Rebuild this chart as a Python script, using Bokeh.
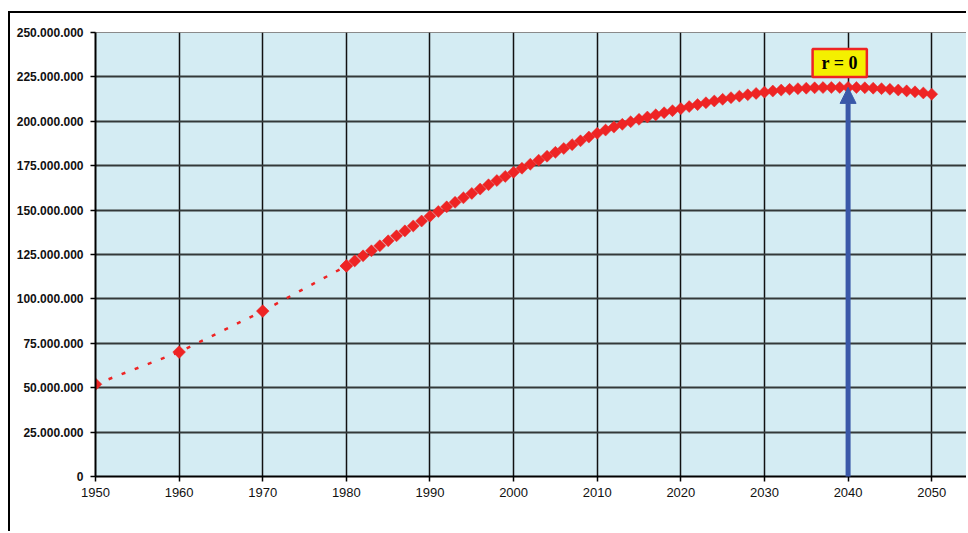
import math
from bokeh.plotting import figure
from bokeh.models import Range1d, FixedTicker, Arrow, NormalHead, Label
from bokeh.embed import file_html
from bokeh.resources import INLINE

# ---- data (population, millions) ----
census_years = [1950, 1960, 1970, 1980]
census_pop = [51.94, 70.07, 93.14, 118.56]

proj_years = list(range(1980, 2051))
proj_pop = [
    118.56, 121.41, 124.25, 127.08, 129.90, 132.71, 135.51, 138.30, 141.08, 143.85,
    146.59, 149.23, 151.83, 154.39, 156.91, 159.39, 161.84, 164.26, 166.64, 168.98,
    171.28, 173.58, 175.85, 178.10, 180.32, 182.52, 184.70, 186.86, 189.00, 191.13,
    193.25, 195.05, 196.73, 198.29, 199.74, 201.10, 202.39, 203.62, 204.81, 205.98,
    207.14, 208.29, 209.39, 210.44, 211.44, 212.39, 213.29, 214.14, 214.94, 215.69,
    216.41, 217.04, 217.57, 218.01, 218.37, 218.65, 218.85, 218.98, 219.05, 219.08,
    219.08, 219.01, 218.87, 218.66, 218.38, 218.03, 217.61, 217.13, 216.58, 215.97,
    215.29,
]

y_ticks = [0, 25, 50, 75, 100, 125, 150, 175, 200, 225, 250]
y_tick_labels = ["0", "25.000.000", "50.000.000", "75.000.000", "100.000.000",
                 "125.000.000", "150.000.000", "175.000.000", "200.000.000",
                 "225.000.000", "250.000.000"]
x_ticks = [1950, 1960, 1970, 1980, 1990, 2000, 2010, 2020, 2030, 2040, 2050]

peak_year = 2040
peak_pop = 219.1
note_text = "r = 0"

RED = "#ee2424"
BLUE = "#3a58a8"

# canvas starts at (10, 13) on the page because of the CSS frame below
p = figure(width=958, height=520, output_backend="svg", toolbar_location=None,
           x_range=Range1d(1950, 2054.4), y_range=Range1d(0, 250))
p.styles = {"margin-left": "8px", "margin-top": "11px",
            "border-left": "2px solid black", "border-top": "2px solid black"}
p.min_border_left = 85
p.min_border_top = 19
p.min_border_bottom = 57
p.min_border_right = 0
p.background_fill_color = "#d4ecf3"
p.border_fill_color = "white"
p.outline_line_color = "#8a8a8a"
p.outline_line_width = 1

# axes
p.yaxis.ticker = FixedTicker(ticks=y_ticks)
p.yaxis.major_label_overrides = {t: l for t, l in zip(y_ticks, y_tick_labels)}
p.xaxis.ticker = FixedTicker(ticks=x_ticks)
for ax in (p.xaxis[0], p.yaxis[0]):
    ax.axis_line_color = "black"
    ax.axis_line_width = 2
    ax.major_tick_line_color = "black"
    ax.major_tick_line_width = 1.5
    ax.major_tick_in = 0
    ax.major_tick_out = 5
    ax.minor_tick_line_color = None
    ax.major_label_text_font = "Liberation Sans"
    ax.major_label_text_color = "#111111"
p.yaxis.major_label_text_font_size = "12px"
p.yaxis.major_label_text_font_style = "bold"
p.yaxis.major_label_standoff = 7
p.xaxis.major_label_text_font_size = "13px"
p.xaxis.major_label_standoff = 6

# grid
p.xgrid.ticker = FixedTicker(ticks=x_ticks[1:])
p.ygrid.ticker = FixedTicker(ticks=y_ticks[1:-1])
p.xgrid.grid_line_color = "#111111"
p.ygrid.grid_line_color = "#333838"
p.xgrid.grid_line_width = 1.5
p.ygrid.grid_line_width = 2

# data
p.line(census_years, census_pop, line_color=RED, line_width=2.5, line_dash="4 10")
p.scatter(proj_years, proj_pop, marker="square", angle=math.pi / 4, size=8.5,
          fill_color=RED, line_color=RED, line_width=0.5)
p.scatter(census_years, census_pop, marker="square", angle=math.pi / 4, size=9,
          fill_color=RED, line_color=RED, line_width=0.5)

# arrow to the peak
p.add_layout(Arrow(end=NormalHead(size=16, fill_color=BLUE, line_color=BLUE),
                   x_start=peak_year, y_start=-1.7, x_end=peak_year, y_end=peak_pop,
                   line_color=BLUE, line_width=5))

# label box
p.add_layout(Label(x=2039, y=232.8, text=note_text, text_align="center",
                   text_baseline="middle", text_font="Liberation Serif",
                   text_font_style="bold", text_font_size="18px", text_color="black",
                   background_fill_color="#f4f000", border_line_color=RED,
                   border_line_width=2.5, padding=(9, 4)))

open("out.html", "w").write(file_html(p, INLINE))
